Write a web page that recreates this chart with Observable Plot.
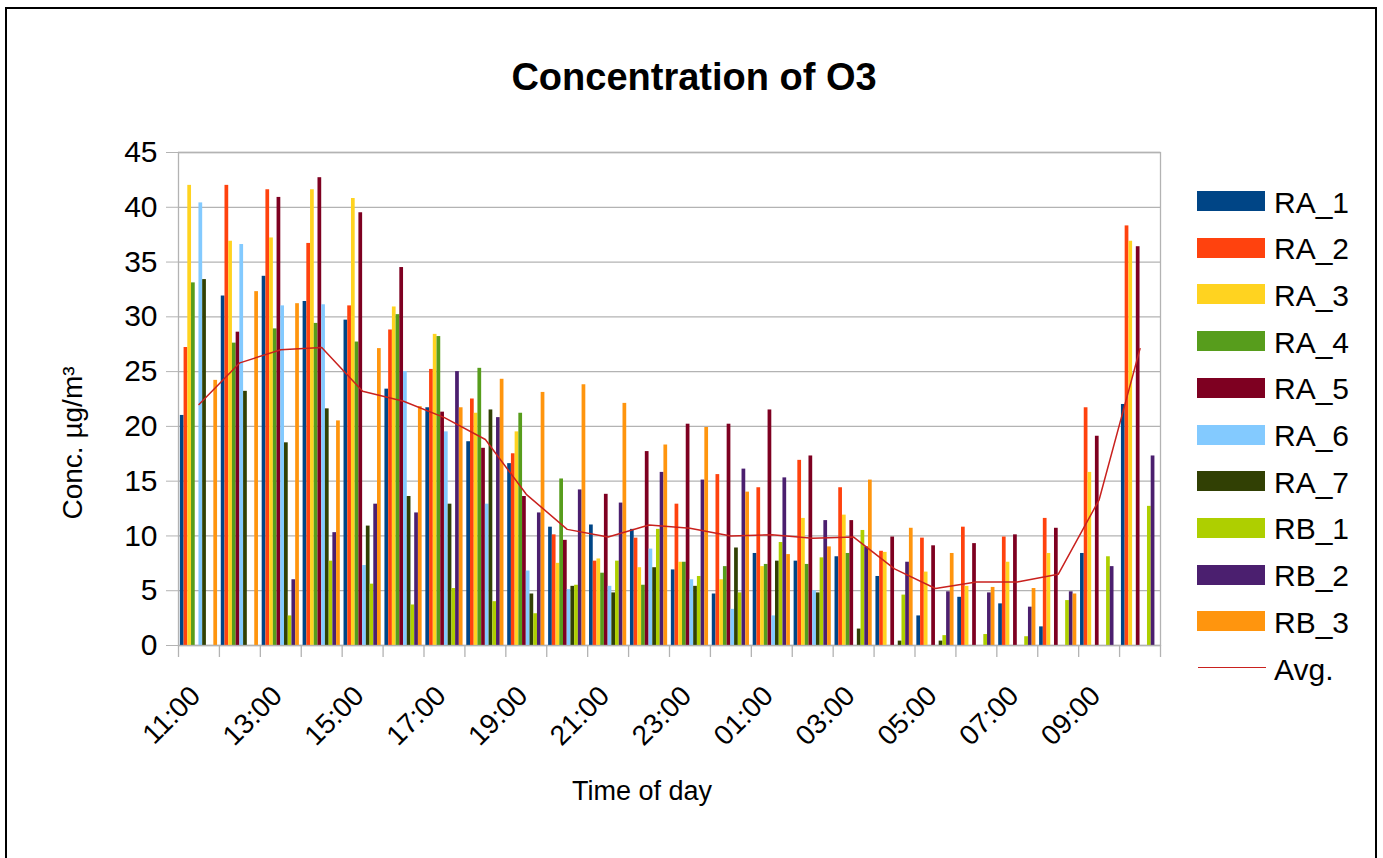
<!DOCTYPE html>
<html>
<head>
<meta charset="utf-8">
<script src="https://cdn.jsdelivr.net/npm/d3@7"></script>
<script src="https://cdn.jsdelivr.net/npm/@observablehq/plot@0.6"></script>
<style>
html, body { margin: 0; padding: 0; background: #fff; }
body { width: 1383px; height: 858px; overflow: hidden; position: relative; font-family: "Liberation Sans", Arial, sans-serif; color: #000; }
#border { position: absolute; left: 5px; top: 7px; width: 1372px; height: 900px; border: 2px solid #000; box-sizing: border-box; }
#chart { position: absolute; left: 0; top: 0; }
#title { position: absolute; left: 0; width: 1388px; top: 58px; text-align: center; font-weight: bold; font-size: 38px; line-height: 38px; white-space: nowrap; }
#ytitle { position: absolute; left: 73px; top: 443px; font-size: 28px; line-height: 28px; white-space: nowrap; transform: translate(-50%, -50%) rotate(-90deg); }
#xtitle { position: absolute; left: 0; width: 1284px; top: 778px; text-align: center; font-size: 27px; line-height: 27px; white-space: nowrap; }
.lg-box { position: absolute; left: 1197px; width: 68px; height: 20px; }
.lg-line { position: absolute; left: 1198px; width: 68px; height: 0; border-top: 1.5px solid #c9211e; }
.lg-text { position: absolute; left: 1274px; font-size: 30px; line-height: 30px; white-space: nowrap; }
</style>
</head>
<body>
<div id="border"></div>
<div id="chart"></div>
<div id="title">Concentration of O3</div>
<div id="ytitle">Conc. µg/m³</div>
<div id="xtitle">Time of day</div>
<div id="legend"></div>
<script>
// ---------- data ----------
const hours = ["11:00","12:00","13:00","14:00","15:00","16:00","17:00","18:00","19:00","20:00","21:00","22:00",
               "23:00","00:00","01:00","02:00","03:00","04:00","05:00","06:00","07:00","08:00","09:00","10:00"];
const labelHours = ["11:00","13:00","15:00","17:00","19:00","21:00","23:00","01:00","03:00","05:00","07:00","09:00"];
const yTicks = [0, 5, 10, 15, 20, 25, 30, 35, 40, 45];

const seriesNames = ["RA_1","RA_2","RA_3","RA_4","RA_5","RA_6","RA_7","RB_1","RB_2","RB_3"];
const seriesColors = ["#004586","#ff420e","#ffd320","#579d1c","#7e0021","#83caff","#314004","#aecf00","#4b1f6f","#ff950e"];
const avgName = "Avg.";
const avgColor = "#c9211e";

const RA_1 = [21.0, 31.9, 33.7, 31.4, 29.7, 23.4, 21.7, 18.6, 16.6, 10.8, 11.0, 10.6, 6.9, 4.7, 8.4, 7.7, 8.1, 6.3, 2.7, 4.4, 3.8, 1.7, 8.4, 22.0];
const RA_2 = [27.2, 42.0, 41.6, 36.7, 31.0, 28.8, 25.2, 22.5, 17.5, 10.1, 7.7, 9.8, 12.9, 15.6, 14.4, 16.9, 14.4, 8.6, 9.8, 10.8, 9.9, 11.6, 21.7, 38.3];
const RA_3 = [42.0, 36.9, 37.2, 41.6, 40.8, 30.9, 28.4, 21.2, 19.5, 7.5, 7.9, 7.1, 7.6, 6.0, 7.2, 11.6, 11.9, 8.5, 6.7, 5.4, 7.6, 8.4, 15.8, 36.9];
const RA_4 = [33.1, 27.6, 28.9, 29.4, 27.7, 30.2, 28.2, 25.3, 21.2, 15.2, 6.6, 5.5, 7.6, 7.2, 7.4, 7.4, 8.4, null, null, null, null, null, null, null];
const RA_5 = [null, 28.6, 40.9, 42.7, 39.5, 34.5, 21.3, 18.0, 13.6, 9.6, 13.8, 17.7, 20.2, 20.2, 21.5, 17.3, 11.4, 9.9, 9.1, 9.3, 10.1, 10.7, 19.1, 36.4];
const RA_6 = [40.4, 36.6, 31.0, 31.1, 7.3, 25.0, 19.5, 12.9, 6.8, 5.1, 5.4, 8.8, 6.0, 3.3, 2.7, 5.0, null, null, null, null, null, null, null, null];
const RA_7 = [33.4, 23.2, 18.5, 21.6, 10.9, 13.6, 12.9, 21.5, 4.7, 5.4, 4.8, 7.1, 5.4, 8.9, 7.7, 4.8, 1.5, 0.4, 0.4, null, null, null, null, null];
const RB_1 = [null, null, 2.7, 7.7, 5.6, 3.7, 5.2, 4.0, 2.9, 5.5, 7.7, 10.6, 6.3, 4.8, 9.4, 8.0, 10.5, 4.6, 0.9, 1.0, 0.8, 4.1, 8.1, 12.7];
const RB_2 = [null, null, 6.0, 10.3, 12.9, 12.1, 25.0, 20.8, 12.1, 14.2, 13.0, 15.8, 15.1, 16.1, 15.3, 11.4, 9.0, 7.6, 4.9, 4.8, 3.5, 4.9, 7.2, 17.3];
const RB_3 = [24.2, 32.3, 31.2, 20.5, 27.1, 21.8, 21.7, 24.3, 23.1, 23.8, 22.1, 18.3, 19.9, 14.0, 8.3, 9.0, 15.1, 10.7, 8.4, 5.3, 5.2, 4.7, null, null];
const AVG  = [22.0, 25.8, 27.0, 27.2, 23.2, 22.3, 20.8, 18.8, 13.8, 10.6, 9.9, 11.0, 10.7, 10.0, 10.1, 9.8, 9.9, 7.0, 5.2, 5.8, 5.8, 6.5, 13.3, 27.1];

const seriesValues = [RA_1, RA_2, RA_3, RA_4, RA_5, RA_6, RA_7, RB_1, RB_2, RB_3];

// ---------- layout ----------
const W = 1383, H = 858;
const mL = 178, mR = 223, mT = 152, mB = 213;
const plotW = W - mL - mR, plotH = H - mT - mB;
const step = plotW / hours.length;
const barW = step / (seriesNames.length + 1);
const grid = "#b3b3b3";

const barMarks = seriesNames.map((name, si) => {
  const data = seriesValues[si]
    .map((v, i) => ({hour: hours[i], value: v, series: name}))
    .filter(d => d.value != null);
  return Plot.barY(data, {
    x: "hour", y: "value", fill: seriesColors[si],
    insetLeft: barW / 2 + si * barW,
    insetRight: barW / 2 + (seriesNames.length - 1 - si) * barW
  });
});

const avgData = AVG.map((v, i) => ({hour: hours[i], value: v}));

const chart = Plot.plot({
  width: W, height: H,
  marginLeft: mL, marginRight: mR, marginTop: mT, marginBottom: mB,
  style: {fontFamily: "'Liberation Sans', Arial, sans-serif", fontSize: "28px", color: "#000", background: "transparent", overflow: "visible"},
  x: {type: "band", domain: hours, paddingInner: 0, paddingOuter: 0, round: false, label: null},
  y: {domain: [0, 45], label: null},
  marks: [
    Plot.gridY({ticks: yTicks, stroke: grid, strokeOpacity: 1, strokeWidth: 1.3}),
    ...barMarks,
    Plot.lineY(avgData, {x: "hour", y: "value", stroke: avgColor, strokeWidth: 1.5}),
    Plot.frame({stroke: grid, strokeWidth: 1.3}),
    Plot.ruleX(hours, {x: d => d, dx: -step / 2, insetTop: plotH, insetBottom: -12, stroke: grid, strokeWidth: 1.3}),
    Plot.ruleX([hours[hours.length - 1]], {x: d => d, dx: step / 2, insetTop: plotH, insetBottom: -12, stroke: grid, strokeWidth: 1.3}),
    Plot.axisY({ticks: yTicks, tickSize: 12, tickPadding: 9, fontSize: 30, stroke: grid, fill: "#000", label: null}),
    Plot.axisX({ticks: labelHours, tickSize: 0, tickPadding: 52, tickRotate: -45, textAnchor: "end", lineAnchor: "bottom", fontSize: 28, dx: 3, fill: "#000", label: null})
  ]
});
document.getElementById("chart").appendChild(chart);

// ---------- legend ----------
const legend = document.getElementById("legend");
const lgTop = 201, lgStep = 46.7;
seriesNames.forEach((name, i) => {
  const cy = lgTop + i * lgStep;
  const box = document.createElement("div");
  box.className = "lg-box"; box.style.top = (cy - 10) + "px"; box.style.background = seriesColors[i];
  legend.appendChild(box);
  const t = document.createElement("div");
  t.className = "lg-text"; t.style.top = (cy - 13.5) + "px"; t.textContent = name;
  legend.appendChild(t);
});
{
  const cy = lgTop + seriesNames.length * lgStep;
  const ln = document.createElement("div");
  ln.className = "lg-line"; ln.style.top = (cy - 0.75) + "px";
  legend.appendChild(ln);
  const t = document.createElement("div");
  t.className = "lg-text"; t.style.top = (cy - 13.5) + "px"; t.textContent = avgName;
  legend.appendChild(t);
}
</script>
</body>
</html>
